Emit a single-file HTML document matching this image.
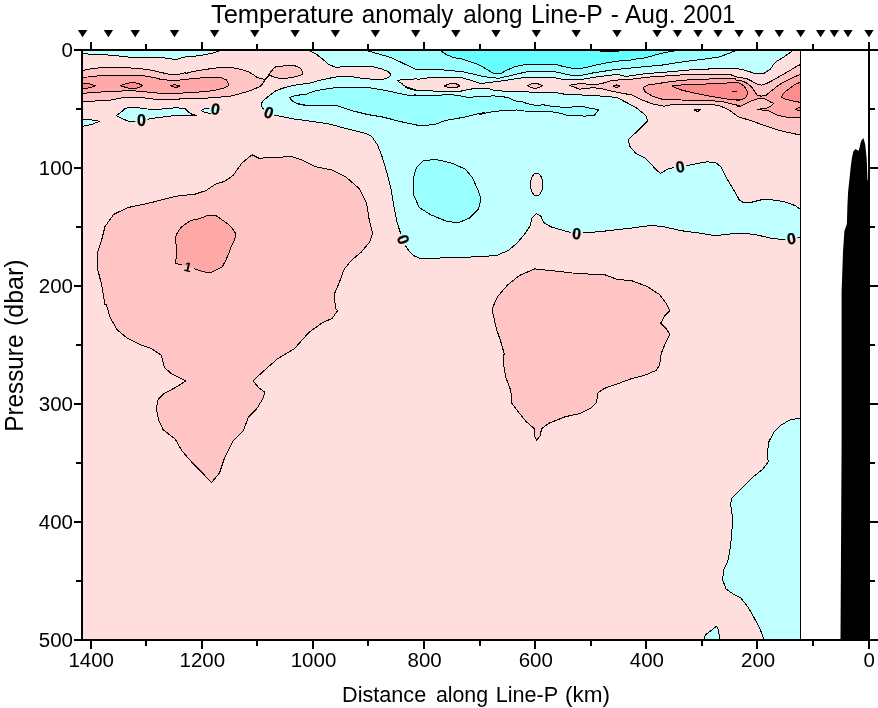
<!DOCTYPE html>
<html><head><meta charset="utf-8"><title>Temperature anomaly along Line-P</title>
<style>html,body{margin:0;padding:0;background:#fff}svg{display:block}</style></head>
<body>
<svg width="878" height="708" viewBox="0 0 878 708">
<rect width="878" height="708" fill="#fff"/>
<defs><clipPath id="cp"><rect x="82" y="50" width="718.5" height="590"/></clipPath></defs>
<g clip-path="url(#cp)">
<rect x="82" y="50" width="718.5" height="590" fill="#ffdede"/>
<g stroke="none">
<path d="M309,50.6 316.5,54.3 323.3,59.7 328.8,64.5 335.6,67.2 350.7,66.6 361.6,66.3 372.5,66.6 380.7,68.6 387.6,71.3 391,74.1 388.9,77.5 383.5,79.3 372.5,79.3 361.6,78.2 350.7,76.5 342.5,76.1 332.9,77.5 323.3,79.5 309.7,83 296,85 295.3,85 284.4,87.7 276.2,90.5 270.7,94.6 264.6,99.4 261.2,103.5 261.9,106.9 264.6,111 268.7,113.4 274.8,115.1 284.4,117.1 295.3,119.2 306,120.5 309.7,121.2 323.3,123 328.8,124 366,133.6 371.9,136.6 377.8,145.5 382.3,157.3 386.7,172.1 391.2,189.9 394.1,207.6 397.1,222.5 400.9,234.3 403.9,242.6 407.5,249.1 413.4,255.6 420.8,258.6 440,258 469.6,257.1 496.3,255.6 508.1,250.6 517,243.2 524.4,234.3 530.4,225.4 531.8,218 536.3,213.6 540.7,215.9 543.7,222.5 551.1,226.9 561.4,229.9 571.8,232.8 585.1,232.8 602.9,231.3 628.8,228.4 651.6,225.4 662.9,226.6 681.2,230.7 701.7,233.4 715.3,235.7 729,234.1 742.7,233 756.3,234.8 770,238 783.7,239.8 800.1,237.1 800.1,209 795.1,205.6 783.7,201.5 770,199.5 760.9,199.9 751.8,202.2 743.8,202.9 739.3,199.9 733.6,189.7 726.7,178.3 721,166.9 715.3,162.3 706.2,161.9 697.1,163.5 685.7,165.8 675.5,166.9 667.5,169.2 660.7,173.3 657.3,171 651.6,164.6 644.7,157.8 635.6,153.2 629.9,146.4 628.3,139.6 633.3,135 640.2,128.2 647.7,120.9 645.9,115.6 635.6,107.2 623.1,100.8 617.4,97.6 606,96.3 608.9,96.6 598,95.9 587.1,95.3 576.1,94.6 565.2,94.3 557,92.9 543.3,92.5 529.7,92.1 520.1,91.2 515.3,91.6 504.4,91.2 494.8,90.5 488,88.4 479.8,88.4 470.2,89.1 460.7,91.2 449.7,91.2 436.1,91.2 425.1,90.5 414.2,90.2 406,87.5 416,89.8 409.4,88 404,85.7 401.9,83.6 397.1,80.6 402.6,79.5 416,78.9 418.3,79.3 430.6,77.5 460.7,77.5 466.1,78.9 471.6,80.6 480.5,83.6 490.7,82.3 501.7,80.9 512.6,79.3 526,77.2 529.7,77.2 543.3,77.2 552.9,77.5 562.5,79.3 573.4,79.8 581.6,79.5 592.5,77.5 606.2,75.7 617.1,74.3 626,76.5 639.7,74.4 646,73.6 668.8,71.9 689.3,70 702.9,69.3 725.7,68.1 735,68.1 736,68.3 744.2,70 751.7,72.4 755.1,73.9 762.9,73.9 765.4,72.4 770.2,69.3 773.6,64.5 777,61.1 783.8,57 790.7,52.2 792.7,50.6Z" fill="#bfffff"/>
<path d="M367.1,50.6 378,53.8 391.7,57.7 402.6,63.1 416,69.3 426.5,70 437.4,69.3 449.7,70.7 460.7,71.3 470.2,73.4 479.8,75.7 489.4,77.5 498.9,78.2 508.5,76.1 516.7,74.1 526,72 529.7,71.3 543.3,71.1 552.9,71.3 562.5,73.4 573.4,75.7 581.6,75.4 592.5,73 606.2,70.9 617.1,69.3 626,68.6 636.9,67.4 646,66.6 661.9,65.1 683.6,61.7 706.4,58.8 718.9,57.1 728,53.7 736,50.6 738.5,49Z" fill="#99ffff"/>
<path d="M440.2,50.6 447,54.9 453.8,57.7 462,59 470.2,61.8 478.4,64.5 486.6,69.3 493.5,73.4 500.3,73.8 507.1,70 515.3,66.6 526,64.5 529.7,64.5 543.3,64.2 555.6,64.5 563.8,66.6 573.4,68.6 584.3,67.9 595.3,65.2 608.9,62.5 622.6,60.4 626,61.1 634.2,59.3 646,57.7 657.4,54.3 666.5,52.2 675.6,50.8 678.5,49Z" fill="#66ffff"/>
<path d="M289.5,97.6 294,95.9 300.8,94.8 306,94.3 313.8,91.2 323.3,89.4 332.9,88 342.5,87.1 353.4,87.1 367.1,87.5 378,89.1 391.7,91.8 405.3,94.8 416,95.9 414.2,94.8 422.4,95.9 436.1,95.3 449.7,94.6 457.9,95.3 467.5,97.3 479.8,96.6 493.5,95.9 501.7,96.6 508.5,97.6 514,100.7 526,102.5 524.2,102.8 529.7,104.1 536.5,105.5 543.3,104.8 551.5,106.2 561.1,107.1 572,107.1 576.1,106.2 583,106.6 589.8,108.2 598.7,109.6 596.6,112.3 594.6,115.1 584.3,116.2 576.1,115.1 566.6,115.1 561.1,113.4 551.5,111.7 537.9,111.2 524.2,111 516,109.9 515.3,110.6 501.7,110.6 490.7,112.1 479.8,114.4 484.5,112.3 463.7,117.3 446,120.3 434.1,124.7 419.3,125.6 401.5,121.8 383.8,117.3 366,114.4 383.5,117.1 367.1,114.4 353.4,111 342.5,107.6 335.6,105.2 323.3,105.2 309.7,105.2 300.1,104.8 296,103 306,105.5 298.1,104.1 292.6,101.4Z" fill="#99ffff"/>
<path d="M413.4,178 416.3,167.7 423.7,160.3 437.1,159.7 451.9,163.2 465.2,169.1 472.6,178 477.9,189.9 480.9,198.8 478.5,209.1 469.6,218 457.8,223 446,221 431.1,215 419.3,207.6 414,195.8Z" fill="#99ffff"/>
<path d="M82.8,50.6 82.8,53.8 96.5,54.3 111.5,55.2 121.1,56.3 130.7,57.3 147.1,57.3 158,57.3 166.2,58.1 175.8,59.7 179.9,58.4 185.3,57 196,56 203.8,54.9 213.3,52.9 220.2,50.6Z" fill="#bfffff"/>
<path d="M116.3,115.5 122.5,111.1 125.2,108.4 130.7,107.4 137.5,107.7 147.1,109 158,109.3 168.9,108.4 177.1,107.7 185.3,108.8 188.1,111.8 192.2,114.5 197,115.5 185.3,115.2 177.1,115.2 166.2,116.6 155.3,117.9 147.1,119.3 136.1,121.3 127.9,121.1 122.5,118.6Z" fill="#bfffff"/>
<path d="M82.8,119.3 89.7,119.7 99.9,121.3 92.4,124.1 82.8,126.4Z" fill="#bfffff"/>
<path d="M201,110.3 206.5,108.2 213.3,108 221.5,109.3 218.8,112.3 212,113.4 205.1,112.7Z" fill="#bfffff"/>
<path d="M694.1,110 697.1,109.1 700.9,109.6 697.8,111.5Z" fill="#bfffff"/>
<path d="M800.5,418.2 790.2,419.7 781,425.2 773.7,432.6 768.9,441.7 767.4,452.8 768.2,461.9 762.7,469.3 753.5,476.6 742.5,487.7 731.5,498.7 730.7,504.2 732.6,518.9 731.5,537.2 729.6,551.9 727.8,561.1 724.1,568.5 722.6,579.5 725.9,588.7 733.3,594.2 740.6,597.8 748,607 755.3,619.9 760.8,630.9 763.8,639.3 800.5,639.3Z" fill="#bfffff"/>
<path d="M703.9,639.3 705.7,634.6 716.8,626.1 718.6,630.9 719.7,639.3Z" fill="#bfffff"/>
<path d="M82.8,70.4 92.4,68.6 103.3,67.5 117,67.5 129.3,67.9 140.2,68.6 149.8,70 159.4,72 168.9,74.3 177.1,74.8 185.3,72.7 186,73.4 194.2,71.3 203.8,69.7 213.3,68.3 222.9,67.2 231.1,67.5 240.7,69.3 248.9,72 254.3,75.4 257.1,77.5 261.9,78.9 265.3,79.3 268,76.1 270.7,72 273.5,68.6 276.2,66.6 284.4,65.9 295.3,65.9 300.1,67.9 302.9,72 302.9,74.3 295.3,76.8 287.1,78.2 278.9,78.2 273.5,76.8 269.4,75.2 266.9,77.5 264.5,80.9 262.3,84 259.8,86.6 251.6,90.2 240.7,93.5 229.7,96.3 213.3,97.6 199.7,98.7 182.6,98.7 171.7,99.8 160.7,100 152.5,98.9 141.6,97.6 130.7,97 121.1,98 111.5,100 103.3,100.7 92.4,101.1 82.8,101.4Z" fill="#ffc4c4"/>
<path d="M444,86.1 449.7,83.6 455.2,83.4 460,85.7 456.6,87.5 449.7,87.7Z" fill="#ffc4c4"/>
<path d="M527.2,85.7 531,83.9 536.5,83.2 542.7,85.7 536.5,88.4 531,87.7Z" fill="#ffc4c4"/>
<path d="M569.3,85.7 573.4,84.3 581.6,83.6 589.8,84.3 598,84.3 603.5,83 610.3,80.9 619.9,79.8 626,79.8 639.7,78.2 646,77.3 680.2,75 702.9,74.2 730,74.4 736,76.8 740.8,77.6 747.2,78.8 751.9,81.2 756.7,84 761.5,85.2 766.3,83.6 771.1,81.2 777.5,77.6 783.8,74 790.7,70 796.1,66.6 800.5,64.5 800.1,135 779.1,130.4 765.5,125.9 751.8,120.9 738.1,116.8 729,109.9 719.9,105.8 713.5,104.8 702.5,104.1 691.6,104.1 680.7,104.1 671.1,104.8 664.3,106.2 653.3,104.1 643.8,100.7 636.9,97.6 631.5,94.8 626,93.9 628.1,94.3 618.5,92.5 608.9,90.5 600.7,88.4 592.5,87.7 584.3,88.8 578.9,89.1 573.4,86.6Z" fill="#ffc4c4"/>
<path d="M105,305.1 101.6,284.6 97.2,267.5 97.2,253.8 101.6,240.2 105,226.5 113.6,214.5 127.3,207.7 151.2,202.6 175.1,196.4 195.6,194 205.8,190.6 216.1,183.8 224.6,181.4 233.2,175.3 241.7,163.3 252,154.8 258.8,158.2 274.2,157.5 291.3,156.5 301.5,159.9 315.2,166.7 332.3,170.1 345.9,177 359.6,188.9 366.4,202.6 369.2,219.7 372.6,233.3 369.8,241.9 361.3,252.1 351.1,260.7 344.2,269.2 339.1,282.9 334,294.8 335.7,308.5 337.4,310.8 332.3,318.4 322,322.8 308.3,333 294.7,348.4 277.6,358.7 262.2,372.3 253,380.9 258.8,387.7 264.6,392.2 263.2,398 257.1,408.2 248.6,416.8 243.4,430.4 233.2,440.7 224.6,457.8 219.5,473.1 211.6,482.4 204.1,474.8 193.9,464.6 181.9,450.9 175.1,439 163.1,429.7 158.7,420.2 156.3,408.2 158,399.7 164.2,393.5 175.1,387.7 186,380.9 171.7,374 164.2,367.2 161.4,355.3 151.2,348.4 139.2,344.3 127.3,338.2 117,329.6 110.2,317.7 106.1,304Z" fill="#ffc4c4"/>
<path d="M492.1,308.9 497.3,297 507.5,285 519.5,275.4 534.8,268.9 551.9,270.7 572.4,273 589.5,274.1 604.9,274.8 616.8,279.2 632.2,280.9 647.6,286.7 659.6,294.6 666.4,303.8 669.8,310.6 664.7,315.8 660.6,323.3 666.4,328.7 669.8,334.5 664.7,344.8 661.3,353.3 659.6,365.3 656.1,370.4 644.2,375.5 630.5,379 616.8,384.1 604.9,388.2 598.1,392.6 596.3,402.9 591.2,408 579.3,413.8 565.6,416.6 548.5,423.4 541.7,428.5 540,436 536.5,440.5 534.2,435.3 534.2,428.5 526.3,421.7 517.8,411.4 511.6,402.9 510.9,390.9 505.8,377.3 503.4,363.6 504.1,353.3 500.7,341.4 496.6,329.4 493.8,317.5Z" fill="#ffc4c4"/>
<path d="M82.8,77.5 92.4,76.5 103.3,75.4 117,75.2 130.7,75.2 141.6,75.4 152.5,77.2 160.7,79.3 171.7,80.6 182.6,79.8 196,78.2 203.8,77.8 213.3,77.2 221.5,77.8 226.3,79.8 229.1,85 225.6,87.5 217.4,89.8 206.5,91.6 196,92.2 179.9,93.2 166.2,93.5 155.3,92.9 141.6,91.4 130.7,90.7 117,91.2 103.3,91.8 92.4,92.8 82.8,93.2Z" fill="#ffa8a8"/>
<path d="M643.1,87.5 647.9,85 657.4,83.6 671.1,81.6 683.4,80.2 702.5,79.3 721.7,78.4 735.3,78.9 736,80 740.8,80.4 746.4,82.8 751.9,87.2 755.9,93.5 757.5,95.4 761.5,96.2 766.3,95.1 771.1,91.1 777.5,86 783.8,82 791.8,78 800,74.6 800,117.5 791.8,117.8 783.8,116.7 777.5,115.1 772.7,112.7 767.9,110.7 762.3,110 757.1,109.1 763.9,108.9 767.1,107.9 771.1,105.9 773.5,103.3 769.5,101.5 764.7,98.7 762.3,98.3 756.7,99.1 751.9,100.7 746.4,103.5 740.8,106.3 736,105.9 739.4,105.5 729.9,103.5 721.7,101.4 702.5,100.3 680.7,100 662.9,99.4 653.3,96.6 645.1,91.8Z" fill="#ffa8a8"/>
<path d="M175.2,238.1 177.2,233 181,227.3 185.4,224.1 191.1,220.3 198.1,219.1 203.2,217.2 207.6,215.2 215.3,215.2 221,219.1 227.3,223.5 232.4,228.6 235.9,233.7 235,238.1 233.1,243.2 230.5,248.3 228.6,254 225.4,261 222.3,266.7 217.2,269.6 211.5,272.2 205.7,272.2 199.4,270.5 193.7,268.6 181.6,264.8 175.2,263.3 176.5,255.9 176.5,248.3 175.9,243.2Z" fill="#ffa8a8"/>
<path d="M82.8,83 88.3,83.6 95.8,85.7 89.7,87.7 82.8,89.1Z" fill="#ff8c8c"/>
<path d="M120.4,85.7 126.6,83.4 133.4,82.3 138.9,83.6 142.6,85.7 137.5,88 132,88.7 126.6,87.7Z" fill="#ff8c8c"/>
<path d="M170.3,85.7 174.4,84.7 179.9,86 175.8,87.7Z" fill="#ff8c8c"/>
<path d="M613.3,86.1 616.5,85 619.9,86.1 616.5,87.7Z" fill="#ffa8a8"/>
<path d="M596,50.5 620.5,50.5 616,51.8 605,51.8Z" fill="#33ffff"/>
<path d="M671.8,86.1 680.7,85 694.3,84.6 714.8,83.6 734,82.7 736,82.4 740,83.2 744,86 746.8,89.9 747.6,93.1 746.4,96.7 744,98.7 740.8,99.9 736,100.3 740.8,99.4 729.9,99.4 716.2,97.3 702.5,94.8 691.6,92.5 680.7,89.8Z" fill="#ff8c8c"/>
<path d="M800,82.4 795,84.4 790.2,88 785.4,91.5 783,93.9 781.4,97.5 785.4,99.1 791.8,100.7 800,102.3Z" fill="#ff8c8c"/>
<path d="M800,107.5 797.8,108.1 795.4,109.1 797.8,110.3 800,110.7Z" fill="#ff8c8c"/>
<path d="M732.6,91.2 736.4,91.2 734.5,92Z" fill="#000000"/>
<ellipse cx="536.6" cy="184.5" rx="6.2" ry="11.3" fill="#ffdede"/>
</g>
<mask id="mk" maskUnits="userSpaceOnUse" x="0" y="0" width="878" height="708"><rect width="878" height="708" fill="#fff"/>
<ellipse cx="141.4" cy="120.5" rx="6.3" ry="6.3" transform="rotate(0 141.4 120.5)" fill="#000"/>
<ellipse cx="215.4" cy="108.9" rx="6.3" ry="6.3" transform="rotate(8 215.4 108.9)" fill="#000"/>
<ellipse cx="269.0" cy="112.3" rx="6.3" ry="6.3" transform="rotate(20 269.0 112.3)" fill="#000"/>
<ellipse cx="403.4" cy="239.5" rx="6.3" ry="6.3" transform="rotate(70 403.4 239.5)" fill="#000"/>
<ellipse cx="576.8" cy="233.5" rx="6.3" ry="6.3" transform="rotate(5 576.8 233.5)" fill="#000"/>
<ellipse cx="680.1" cy="166.7" rx="6.3" ry="6.3" transform="rotate(-10 680.1 166.7)" fill="#000"/>
<ellipse cx="791.4" cy="238.4" rx="6.3" ry="6.3" transform="rotate(-8 791.4 238.4)" fill="#000"/>
<ellipse cx="188.0" cy="267.0" rx="6.3" ry="6.3" transform="rotate(14 188.0 267.0)" fill="#000"/>
</mask>
<g stroke="#000" stroke-width="1" stroke-linejoin="round" fill="none" mask="url(#mk)" shape-rendering="crispEdges">
<path d="M309,50.6 316.5,54.3 323.3,59.7 328.8,64.5 335.6,67.2 350.7,66.6 361.6,66.3 372.5,66.6 380.7,68.6 387.6,71.3 391,74.1 388.9,77.5 383.5,79.3 372.5,79.3 361.6,78.2 350.7,76.5 342.5,76.1 332.9,77.5 323.3,79.5 309.7,83 296,85 295.3,85 284.4,87.7 276.2,90.5 270.7,94.6 264.6,99.4 261.2,103.5 261.9,106.9 264.6,111 268.7,113.4 274.8,115.1 284.4,117.1 295.3,119.2 306,120.5 309.7,121.2 323.3,123 328.8,124 366,133.6 371.9,136.6 377.8,145.5 382.3,157.3 386.7,172.1 391.2,189.9 394.1,207.6 397.1,222.5 400.9,234.3 403.9,242.6 407.5,249.1 413.4,255.6 420.8,258.6 440,258 469.6,257.1 496.3,255.6 508.1,250.6 517,243.2 524.4,234.3 530.4,225.4 531.8,218 536.3,213.6 540.7,215.9 543.7,222.5 551.1,226.9 561.4,229.9 571.8,232.8 585.1,232.8 602.9,231.3 628.8,228.4 651.6,225.4 662.9,226.6 681.2,230.7 701.7,233.4 715.3,235.7 729,234.1 742.7,233 756.3,234.8 770,238 783.7,239.8 800.1,237.1 800.1,209 795.1,205.6 783.7,201.5 770,199.5 760.9,199.9 751.8,202.2 743.8,202.9 739.3,199.9 733.6,189.7 726.7,178.3 721,166.9 715.3,162.3 706.2,161.9 697.1,163.5 685.7,165.8 675.5,166.9 667.5,169.2 660.7,173.3 657.3,171 651.6,164.6 644.7,157.8 635.6,153.2 629.9,146.4 628.3,139.6 633.3,135 640.2,128.2 647.7,120.9 645.9,115.6 635.6,107.2 623.1,100.8 617.4,97.6 606,96.3 608.9,96.6 598,95.9 587.1,95.3 576.1,94.6 565.2,94.3 557,92.9 543.3,92.5 529.7,92.1 520.1,91.2 515.3,91.6 504.4,91.2 494.8,90.5 488,88.4 479.8,88.4 470.2,89.1 460.7,91.2 449.7,91.2 436.1,91.2 425.1,90.5 414.2,90.2 406,87.5 416,89.8 409.4,88 404,85.7 401.9,83.6 397.1,80.6 402.6,79.5 416,78.9 418.3,79.3 430.6,77.5 460.7,77.5 466.1,78.9 471.6,80.6 480.5,83.6 490.7,82.3 501.7,80.9 512.6,79.3 526,77.2 529.7,77.2 543.3,77.2 552.9,77.5 562.5,79.3 573.4,79.8 581.6,79.5 592.5,77.5 606.2,75.7 617.1,74.3 626,76.5 639.7,74.4 646,73.6 668.8,71.9 689.3,70 702.9,69.3 725.7,68.1 735,68.1 736,68.3 744.2,70 751.7,72.4 755.1,73.9 762.9,73.9 765.4,72.4 770.2,69.3 773.6,64.5 777,61.1 783.8,57 790.7,52.2 792.7,50.6Z"/>
<path d="M367.1,50.6 378,53.8 391.7,57.7 402.6,63.1 416,69.3 426.5,70 437.4,69.3 449.7,70.7 460.7,71.3 470.2,73.4 479.8,75.7 489.4,77.5 498.9,78.2 508.5,76.1 516.7,74.1 526,72 529.7,71.3 543.3,71.1 552.9,71.3 562.5,73.4 573.4,75.7 581.6,75.4 592.5,73 606.2,70.9 617.1,69.3 626,68.6 636.9,67.4 646,66.6 661.9,65.1 683.6,61.7 706.4,58.8 718.9,57.1 728,53.7 736,50.6 738.5,49Z"/>
<path d="M440.2,50.6 447,54.9 453.8,57.7 462,59 470.2,61.8 478.4,64.5 486.6,69.3 493.5,73.4 500.3,73.8 507.1,70 515.3,66.6 526,64.5 529.7,64.5 543.3,64.2 555.6,64.5 563.8,66.6 573.4,68.6 584.3,67.9 595.3,65.2 608.9,62.5 622.6,60.4 626,61.1 634.2,59.3 646,57.7 657.4,54.3 666.5,52.2 675.6,50.8 678.5,49Z"/>
<path d="M289.5,97.6 294,95.9 300.8,94.8 306,94.3 313.8,91.2 323.3,89.4 332.9,88 342.5,87.1 353.4,87.1 367.1,87.5 378,89.1 391.7,91.8 405.3,94.8 416,95.9 414.2,94.8 422.4,95.9 436.1,95.3 449.7,94.6 457.9,95.3 467.5,97.3 479.8,96.6 493.5,95.9 501.7,96.6 508.5,97.6 514,100.7 526,102.5 524.2,102.8 529.7,104.1 536.5,105.5 543.3,104.8 551.5,106.2 561.1,107.1 572,107.1 576.1,106.2 583,106.6 589.8,108.2 598.7,109.6 596.6,112.3 594.6,115.1 584.3,116.2 576.1,115.1 566.6,115.1 561.1,113.4 551.5,111.7 537.9,111.2 524.2,111 516,109.9 515.3,110.6 501.7,110.6 490.7,112.1 479.8,114.4 484.5,112.3 463.7,117.3 446,120.3 434.1,124.7 419.3,125.6 401.5,121.8 383.8,117.3 366,114.4 383.5,117.1 367.1,114.4 353.4,111 342.5,107.6 335.6,105.2 323.3,105.2 309.7,105.2 300.1,104.8 296,103 306,105.5 298.1,104.1 292.6,101.4Z"/>
<path d="M413.4,178 416.3,167.7 423.7,160.3 437.1,159.7 451.9,163.2 465.2,169.1 472.6,178 477.9,189.9 480.9,198.8 478.5,209.1 469.6,218 457.8,223 446,221 431.1,215 419.3,207.6 414,195.8Z"/>
<path d="M82.8,50.6 82.8,53.8 96.5,54.3 111.5,55.2 121.1,56.3 130.7,57.3 147.1,57.3 158,57.3 166.2,58.1 175.8,59.7 179.9,58.4 185.3,57 196,56 203.8,54.9 213.3,52.9 220.2,50.6Z"/>
<path d="M116.3,115.5 122.5,111.1 125.2,108.4 130.7,107.4 137.5,107.7 147.1,109 158,109.3 168.9,108.4 177.1,107.7 185.3,108.8 188.1,111.8 192.2,114.5 197,115.5 185.3,115.2 177.1,115.2 166.2,116.6 155.3,117.9 147.1,119.3 136.1,121.3 127.9,121.1 122.5,118.6Z"/>
<path d="M82.8,119.3 89.7,119.7 99.9,121.3 92.4,124.1 82.8,126.4Z"/>
<path d="M201,110.3 206.5,108.2 213.3,108 221.5,109.3 218.8,112.3 212,113.4 205.1,112.7Z"/>
<path d="M694.1,110 697.1,109.1 700.9,109.6 697.8,111.5Z"/>
<path d="M800.5,418.2 790.2,419.7 781,425.2 773.7,432.6 768.9,441.7 767.4,452.8 768.2,461.9 762.7,469.3 753.5,476.6 742.5,487.7 731.5,498.7 730.7,504.2 732.6,518.9 731.5,537.2 729.6,551.9 727.8,561.1 724.1,568.5 722.6,579.5 725.9,588.7 733.3,594.2 740.6,597.8 748,607 755.3,619.9 760.8,630.9 763.8,639.3 800.5,639.3Z"/>
<path d="M703.9,639.3 705.7,634.6 716.8,626.1 718.6,630.9 719.7,639.3Z"/>
<path d="M82.8,70.4 92.4,68.6 103.3,67.5 117,67.5 129.3,67.9 140.2,68.6 149.8,70 159.4,72 168.9,74.3 177.1,74.8 185.3,72.7 186,73.4 194.2,71.3 203.8,69.7 213.3,68.3 222.9,67.2 231.1,67.5 240.7,69.3 248.9,72 254.3,75.4 257.1,77.5 261.9,78.9 265.3,79.3 268,76.1 270.7,72 273.5,68.6 276.2,66.6 284.4,65.9 295.3,65.9 300.1,67.9 302.9,72 302.9,74.3 295.3,76.8 287.1,78.2 278.9,78.2 273.5,76.8 269.4,75.2 266.9,77.5 264.5,80.9 262.3,84 259.8,86.6 251.6,90.2 240.7,93.5 229.7,96.3 213.3,97.6 199.7,98.7 182.6,98.7 171.7,99.8 160.7,100 152.5,98.9 141.6,97.6 130.7,97 121.1,98 111.5,100 103.3,100.7 92.4,101.1 82.8,101.4Z"/>
<path d="M444,86.1 449.7,83.6 455.2,83.4 460,85.7 456.6,87.5 449.7,87.7Z"/>
<path d="M527.2,85.7 531,83.9 536.5,83.2 542.7,85.7 536.5,88.4 531,87.7Z"/>
<path d="M569.3,85.7 573.4,84.3 581.6,83.6 589.8,84.3 598,84.3 603.5,83 610.3,80.9 619.9,79.8 626,79.8 639.7,78.2 646,77.3 680.2,75 702.9,74.2 730,74.4 736,76.8 740.8,77.6 747.2,78.8 751.9,81.2 756.7,84 761.5,85.2 766.3,83.6 771.1,81.2 777.5,77.6 783.8,74 790.7,70 796.1,66.6 800.5,64.5 800.1,135 779.1,130.4 765.5,125.9 751.8,120.9 738.1,116.8 729,109.9 719.9,105.8 713.5,104.8 702.5,104.1 691.6,104.1 680.7,104.1 671.1,104.8 664.3,106.2 653.3,104.1 643.8,100.7 636.9,97.6 631.5,94.8 626,93.9 628.1,94.3 618.5,92.5 608.9,90.5 600.7,88.4 592.5,87.7 584.3,88.8 578.9,89.1 573.4,86.6Z"/>
<path d="M105,305.1 101.6,284.6 97.2,267.5 97.2,253.8 101.6,240.2 105,226.5 113.6,214.5 127.3,207.7 151.2,202.6 175.1,196.4 195.6,194 205.8,190.6 216.1,183.8 224.6,181.4 233.2,175.3 241.7,163.3 252,154.8 258.8,158.2 274.2,157.5 291.3,156.5 301.5,159.9 315.2,166.7 332.3,170.1 345.9,177 359.6,188.9 366.4,202.6 369.2,219.7 372.6,233.3 369.8,241.9 361.3,252.1 351.1,260.7 344.2,269.2 339.1,282.9 334,294.8 335.7,308.5 337.4,310.8 332.3,318.4 322,322.8 308.3,333 294.7,348.4 277.6,358.7 262.2,372.3 253,380.9 258.8,387.7 264.6,392.2 263.2,398 257.1,408.2 248.6,416.8 243.4,430.4 233.2,440.7 224.6,457.8 219.5,473.1 211.6,482.4 204.1,474.8 193.9,464.6 181.9,450.9 175.1,439 163.1,429.7 158.7,420.2 156.3,408.2 158,399.7 164.2,393.5 175.1,387.7 186,380.9 171.7,374 164.2,367.2 161.4,355.3 151.2,348.4 139.2,344.3 127.3,338.2 117,329.6 110.2,317.7 106.1,304Z"/>
<path d="M492.1,308.9 497.3,297 507.5,285 519.5,275.4 534.8,268.9 551.9,270.7 572.4,273 589.5,274.1 604.9,274.8 616.8,279.2 632.2,280.9 647.6,286.7 659.6,294.6 666.4,303.8 669.8,310.6 664.7,315.8 660.6,323.3 666.4,328.7 669.8,334.5 664.7,344.8 661.3,353.3 659.6,365.3 656.1,370.4 644.2,375.5 630.5,379 616.8,384.1 604.9,388.2 598.1,392.6 596.3,402.9 591.2,408 579.3,413.8 565.6,416.6 548.5,423.4 541.7,428.5 540,436 536.5,440.5 534.2,435.3 534.2,428.5 526.3,421.7 517.8,411.4 511.6,402.9 510.9,390.9 505.8,377.3 503.4,363.6 504.1,353.3 500.7,341.4 496.6,329.4 493.8,317.5Z"/>
<path d="M82.8,77.5 92.4,76.5 103.3,75.4 117,75.2 130.7,75.2 141.6,75.4 152.5,77.2 160.7,79.3 171.7,80.6 182.6,79.8 196,78.2 203.8,77.8 213.3,77.2 221.5,77.8 226.3,79.8 229.1,85 225.6,87.5 217.4,89.8 206.5,91.6 196,92.2 179.9,93.2 166.2,93.5 155.3,92.9 141.6,91.4 130.7,90.7 117,91.2 103.3,91.8 92.4,92.8 82.8,93.2Z"/>
<path d="M643.1,87.5 647.9,85 657.4,83.6 671.1,81.6 683.4,80.2 702.5,79.3 721.7,78.4 735.3,78.9 736,80 740.8,80.4 746.4,82.8 751.9,87.2 755.9,93.5 757.5,95.4 761.5,96.2 766.3,95.1 771.1,91.1 777.5,86 783.8,82 791.8,78 800,74.6 800,117.5 791.8,117.8 783.8,116.7 777.5,115.1 772.7,112.7 767.9,110.7 762.3,110 757.1,109.1 763.9,108.9 767.1,107.9 771.1,105.9 773.5,103.3 769.5,101.5 764.7,98.7 762.3,98.3 756.7,99.1 751.9,100.7 746.4,103.5 740.8,106.3 736,105.9 739.4,105.5 729.9,103.5 721.7,101.4 702.5,100.3 680.7,100 662.9,99.4 653.3,96.6 645.1,91.8Z"/>
<path d="M175.2,238.1 177.2,233 181,227.3 185.4,224.1 191.1,220.3 198.1,219.1 203.2,217.2 207.6,215.2 215.3,215.2 221,219.1 227.3,223.5 232.4,228.6 235.9,233.7 235,238.1 233.1,243.2 230.5,248.3 228.6,254 225.4,261 222.3,266.7 217.2,269.6 211.5,272.2 205.7,272.2 199.4,270.5 193.7,268.6 181.6,264.8 175.2,263.3 176.5,255.9 176.5,248.3 175.9,243.2Z"/>
<path d="M82.8,83 88.3,83.6 95.8,85.7 89.7,87.7 82.8,89.1Z"/>
<path d="M120.4,85.7 126.6,83.4 133.4,82.3 138.9,83.6 142.6,85.7 137.5,88 132,88.7 126.6,87.7Z"/>
<path d="M170.3,85.7 174.4,84.7 179.9,86 175.8,87.7Z"/>
<path d="M613.3,86.1 616.5,85 619.9,86.1 616.5,87.7Z"/>
<path d="M596,50.5 620.5,50.5 616,51.8 605,51.8Z"/>
<path d="M671.8,86.1 680.7,85 694.3,84.6 714.8,83.6 734,82.7 736,82.4 740,83.2 744,86 746.8,89.9 747.6,93.1 746.4,96.7 744,98.7 740.8,99.9 736,100.3 740.8,99.4 729.9,99.4 716.2,97.3 702.5,94.8 691.6,92.5 680.7,89.8Z"/>
<path d="M800,82.4 795,84.4 790.2,88 785.4,91.5 783,93.9 781.4,97.5 785.4,99.1 791.8,100.7 800,102.3Z"/>
<path d="M800,107.5 797.8,108.1 795.4,109.1 797.8,110.3 800,110.7Z"/>
<path d="M732.6,91.2 736.4,91.2 734.5,92Z"/>
<ellipse cx="536.6" cy="184.5" rx="6.2" ry="11.3"/>
</g>
</g>
<line x1="800.5" y1="50" x2="800.5" y2="640" stroke="#000" stroke-width="1"/>
<path d="M869,180 867.5,180 866.7,159 865.3,145 863.5,138 861.1,141 859.6,147.3 858.7,150.8 855.4,149.1 853.3,151.5 851.9,157.9 850.8,166.4 849.3,180.5 848.1,191.8 847.4,205.9 846.9,224 844.4,231 843,252 841.6,292 841.6,444 840.5,639 869,639Z" fill="#000"/>
<g font-family="'Liberation Sans', sans-serif" font-size="16" font-weight="bold" text-anchor="middle" fill="#000" stroke="#000" stroke-width="0.25">
<text x="141.4" y="120.5" transform="rotate(0 141.4 120.5)" dy="5.7">0</text>
<text x="215.4" y="108.9" transform="rotate(8 215.4 108.9)" dy="5.7">0</text>
<text x="269.0" y="112.3" transform="rotate(20 269.0 112.3)" dy="5.7">0</text>
<text x="403.4" y="239.5" transform="rotate(70 403.4 239.5)" dy="5.7">0</text>
<text x="576.8" y="233.5" transform="rotate(5 576.8 233.5)" dy="5.7">0</text>
<text x="680.1" y="166.7" transform="rotate(-10 680.1 166.7)" dy="5.7">0</text>
<text x="791.4" y="238.4" transform="rotate(-8 791.4 238.4)" dy="5.7">0</text>
<text x="188.0" y="267.0" transform="rotate(14 188.0 267.0)" dy="4.6" font-size="13" stroke-width="0">1</text>
</g>
<g stroke="#000" stroke-width="2" fill="none" shape-rendering="crispEdges">
<path d="M82,50 H869 V640 H82 Z"/>
</g>
<g stroke="#000" stroke-width="2" fill="none" shape-rendering="crispEdges">
<path d="M869.0,50 v-8.5 M869.0,640 v8.5"/>
<path d="M813.0,50 v-6 M813.0,640 v6"/>
<path d="M757.0,50 v-8.5 M757.0,640 v8.5"/>
<path d="M702.0,50 v-6 M702.0,640 v6"/>
<path d="M646.0,50 v-8.5 M646.0,640 v8.5"/>
<path d="M591.0,50 v-6 M591.0,640 v6"/>
<path d="M535.0,50 v-8.5 M535.0,640 v8.5"/>
<path d="M480.0,50 v-6 M480.0,640 v6"/>
<path d="M424.0,50 v-8.5 M424.0,640 v8.5"/>
<path d="M368.0,50 v-6 M368.0,640 v6"/>
<path d="M313.0,50 v-8.5 M313.0,640 v8.5"/>
<path d="M257.0,50 v-6 M257.0,640 v6"/>
<path d="M202.0,50 v-8.5 M202.0,640 v8.5"/>
<path d="M146.0,50 v-6 M146.0,640 v6"/>
<path d="M91.0,50 v-8.5 M91.0,640 v8.5"/>
<path d="M82,50.0 h-8.5 M869,50.0 h8.5"/>
<path d="M82,109.0 h-6 M869,109.0 h6"/>
<path d="M82,168.0 h-8.5 M869,168.0 h8.5"/>
<path d="M82,227.0 h-6 M869,227.0 h6"/>
<path d="M82,286.0 h-8.5 M869,286.0 h8.5"/>
<path d="M82,345.0 h-6 M869,345.0 h6"/>
<path d="M82,404.0 h-8.5 M869,404.0 h8.5"/>
<path d="M82,463.0 h-6 M869,463.0 h6"/>
<path d="M82,522.0 h-8.5 M869,522.0 h8.5"/>
<path d="M82,581.0 h-6 M869,581.0 h6"/>
<path d="M82,640.0 h-8.5 M869,640.0 h8.5"/>
</g>
<path d="M77.9,29.9 h9.4 l-4.7,7.4z" fill="#000"/>
<path d="M103.7,29.9 h9.4 l-4.7,7.4z" fill="#000"/>
<path d="M130.5,29.9 h9.4 l-4.7,7.4z" fill="#000"/>
<path d="M169.8,29.9 h9.4 l-4.7,7.4z" fill="#000"/>
<path d="M209.9,29.9 h9.4 l-4.7,7.4z" fill="#000"/>
<path d="M250.1,29.9 h9.4 l-4.7,7.4z" fill="#000"/>
<path d="M290.4,29.9 h9.4 l-4.7,7.4z" fill="#000"/>
<path d="M330.7,29.9 h9.4 l-4.7,7.4z" fill="#000"/>
<path d="M370.7,29.9 h9.4 l-4.7,7.4z" fill="#000"/>
<path d="M411.0,29.9 h9.4 l-4.7,7.4z" fill="#000"/>
<path d="M451.1,29.9 h9.4 l-4.7,7.4z" fill="#000"/>
<path d="M491.3,29.9 h9.4 l-4.7,7.4z" fill="#000"/>
<path d="M531.6,29.9 h9.4 l-4.7,7.4z" fill="#000"/>
<path d="M571.5,29.9 h9.4 l-4.7,7.4z" fill="#000"/>
<path d="M612.3,29.9 h9.4 l-4.7,7.4z" fill="#000"/>
<path d="M652.4,29.9 h9.4 l-4.7,7.4z" fill="#000"/>
<path d="M672.9,29.9 h9.4 l-4.7,7.4z" fill="#000"/>
<path d="M693.4,29.9 h9.4 l-4.7,7.4z" fill="#000"/>
<path d="M713.4,29.9 h9.4 l-4.7,7.4z" fill="#000"/>
<path d="M734.4,29.9 h9.4 l-4.7,7.4z" fill="#000"/>
<path d="M754.4,29.9 h9.4 l-4.7,7.4z" fill="#000"/>
<path d="M774.6,29.9 h9.4 l-4.7,7.4z" fill="#000"/>
<path d="M796.0,29.9 h9.4 l-4.7,7.4z" fill="#000"/>
<path d="M815.9,29.9 h9.4 l-4.7,7.4z" fill="#000"/>
<path d="M829.6,29.9 h9.4 l-4.7,7.4z" fill="#000"/>
<path d="M843.3,29.9 h9.4 l-4.7,7.4z" fill="#000"/>
<path d="M864.3,29.9 h9.4 l-4.7,7.4z" fill="#000"/>
<g font-family="'Liberation Sans', sans-serif" fill="#000">
<text x="210.9" y="22.8" font-size="24.9" textLength="143.1" lengthAdjust="spacingAndGlyphs">Temperature</text>
<text x="361.7" y="22.8" font-size="24.9" textLength="91.8" lengthAdjust="spacingAndGlyphs">anomaly</text>
<text x="463.2" y="22.8" font-size="24.9" textLength="59.3" lengthAdjust="spacingAndGlyphs">along</text>
<text x="531.1" y="22.8" font-size="24.9" textLength="71.6" lengthAdjust="spacingAndGlyphs">Line-P</text>
<text x="610.8" y="22.8" font-size="24.9" textLength="8.1" lengthAdjust="spacingAndGlyphs">-</text>
<text x="625.0" y="22.8" font-size="24.9" textLength="50.5" lengthAdjust="spacingAndGlyphs">Aug.</text>
<text x="683.1" y="22.8" font-size="24.9" textLength="52.3" lengthAdjust="spacingAndGlyphs">2001</text>
<text x="342.0" y="701.5" font-size="22" textLength="84.2" lengthAdjust="spacingAndGlyphs">Distance</text>
<text x="435.9" y="701.5" font-size="22" textLength="52.2" lengthAdjust="spacingAndGlyphs">along</text>
<text x="495.7" y="701.5" font-size="22" textLength="62.5" lengthAdjust="spacingAndGlyphs">Line-P</text>
<text x="565.0" y="701.5" font-size="22" textLength="45.0" lengthAdjust="spacingAndGlyphs">(km)</text>
<text transform="translate(23.2 431.8) rotate(-90)" font-size="24.9" textLength="97.3" lengthAdjust="spacingAndGlyphs">Pressure</text>
<text transform="translate(23.2 326.1) rotate(-90)" font-size="24.9" textLength="66.7" lengthAdjust="spacingAndGlyphs">(dbar)</text>
<text x="869.2" y="667" font-size="20.5" text-anchor="middle">0</text>
<text x="758.1" y="667" font-size="20.5" text-anchor="middle">200</text>
<text x="646.9" y="667" font-size="20.5" text-anchor="middle">400</text>
<text x="535.8" y="667" font-size="20.5" text-anchor="middle">600</text>
<text x="424.6" y="667" font-size="20.5" text-anchor="middle">800</text>
<text x="313.5" y="667" font-size="20.5" text-anchor="middle">1000</text>
<text x="202.3" y="667" font-size="20.5" text-anchor="middle">1200</text>
<text x="91.2" y="667" font-size="20.5" text-anchor="middle">1400</text>
<text x="73" y="57.2" font-size="20.5" text-anchor="end">0</text>
<text x="73" y="175.2" font-size="20.5" text-anchor="end">100</text>
<text x="73" y="293.2" font-size="20.5" text-anchor="end">200</text>
<text x="73" y="411.2" font-size="20.5" text-anchor="end">300</text>
<text x="73" y="529.2" font-size="20.5" text-anchor="end">400</text>
<text x="73" y="647.2" font-size="20.5" text-anchor="end">500</text>
</g>
</svg>
</body></html>
